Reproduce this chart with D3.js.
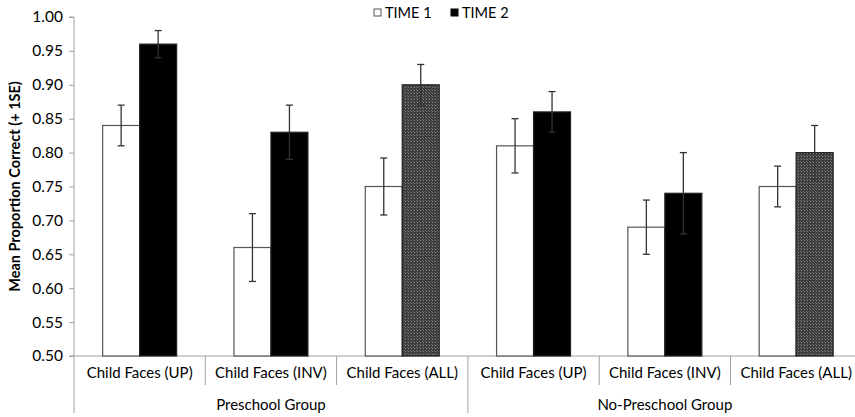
<!DOCTYPE html>
<html>
<head>
<meta charset="utf-8">
<script src="https://cdn.jsdelivr.net/npm/d3@7"></script>
<style>
  body { margin: 0; background: #fff; }
  svg text { font-family: Lato, "Liberation Sans", sans-serif; fill: #000; }
</style>
</head>
<body>
<script>
// data
const groups = ["Preschool Group", "No-Preschool Group"];
const categories = ["Child Faces (UP)", "Child Faces (INV)", "Child Faces (ALL)",
                    "Child Faces (UP)", "Child Faces (INV)", "Child Faces (ALL)"];
const series = ["TIME 1", "TIME 2"];
const time1 = [0.84, 0.66, 0.75, 0.81, 0.69, 0.75];
const time1Err = [0.03, 0.05, 0.042, 0.04, 0.04, 0.03];
const time2 = [0.96, 0.83, 0.90, 0.86, 0.74, 0.80];
const time2Err = [0.02, 0.04, 0.03, 0.03, 0.06, 0.04];
const yTicks = [0.50, 0.55, 0.60, 0.65, 0.70, 0.75, 0.80, 0.85, 0.90, 0.95, 1.00];

const w = 855, h = 417;
const padLeft = 74, padTop = 17, baseY = 356;
const catW = 131.3;

const svg = d3.select("body").append("svg")
  .attr("width", w).attr("height", h);

const defs = svg.append("defs");
const pat = defs.append("pattern")
  .attr("id", "dots").attr("width", 3).attr("height", 3)
  .attr("patternUnits", "userSpaceOnUse");
pat.append("rect").attr("width", 3).attr("height", 3).attr("fill", "#3c3c3c");
pat.append("rect").attr("width", 1).attr("height", 1).attr("fill", "#8a8a8a");
pat.append("rect").attr("x", 2).attr("y", 2).attr("width", 1).attr("height", 1).attr("fill", "#6a6a6a");

const x = d3.scaleBand()
  .domain(d3.range(categories.length))
  .range([padLeft, padLeft + catW * categories.length]);
const xInner = d3.scaleBand()
  .domain(series)
  .range([0, x.bandwidth()])
  .paddingOuter(0.775);
const y = d3.scaleLinear().domain([0.5, 1.0]).range([baseY, padTop]);

// y axis
const yAxis = d3.axisLeft(y).tickValues(yTicks).tickFormat(d3.format(".2f")).tickSize(5).tickPadding(6);
const gy = svg.append("g").attr("transform", `translate(${padLeft},0)`).call(yAxis);
gy.select(".domain").attr("stroke", "#a0a0a0").attr("d", `M-5,${padTop}H0V${baseY}`);
gy.selectAll(".tick line").attr("stroke", "#a0a0a0");
gy.selectAll(".tick text").style("font-size", "15.5px").attr("fill", "#000");

// extend y axis line down through the category area
svg.append("line").attr("x1", padLeft).attr("x2", padLeft).attr("y1", baseY).attr("y2", 413)
  .attr("stroke", "#a0a0a0");

// x axis line
svg.append("line").attr("x1", padLeft - 5).attr("x2", w).attr("y1", baseY).attr("y2", baseY)
  .attr("stroke", "#a0a0a0");

// category separators
d3.range(1, categories.length).forEach(i => {
  const xx = x(i);
  svg.append("line").attr("x1", xx).attr("x2", xx).attr("y1", baseY)
    .attr("y2", i % 3 === 0 ? 413 : 385).attr("stroke", "#a0a0a0");
});

// category labels
svg.selectAll(".cat").data(categories).enter().append("text")
  .attr("class", "cat")
  .attr("x", (d, i) => x(i) + x.bandwidth() / 2)
  .attr("y", 378)
  .attr("text-anchor", "middle")
  .style("font-size", "15px")
  .text(d => d);

// group labels
svg.selectAll(".grp").data(groups).enter().append("text")
  .attr("class", "grp")
  .attr("x", (d, i) => (x(i * 3) + x(i * 3 + 2) + x.bandwidth()) / 2)
  .attr("y", 410)
  .attr("text-anchor", "middle")
  .style("font-size", "15px")
  .text(d => d);

// bars
function fillFor(s, i) {
  if (s === "TIME 1") return "#fff";
  return categories[i].includes("ALL") ? "url(#dots)" : "#000";
}

const bars = [];
categories.forEach((c, i) => {
  bars.push({ i, s: "TIME 1", v: time1[i], e: time1Err[i] });
  bars.push({ i, s: "TIME 2", v: time2[i], e: time2Err[i] });
});

svg.selectAll(".bar").data(bars).enter().append("rect")
  .attr("class", "bar")
  .attr("x", d => x(d.i) + xInner(d.s))
  .attr("y", d => y(d.v))
  .attr("width", xInner.bandwidth())
  .attr("height", d => y(0.5) - y(d.v))
  .attr("fill", d => fillFor(d.s, d.i))
  .attr("stroke", d => d.s === "TIME 1" ? "#555" : "#222")
  .attr("stroke-width", 1.2);

// error bars
const cx = d => x(d.i) + xInner(d.s) + xInner.bandwidth() / 2;
const eg = svg.selectAll(".err").data(bars).enter().append("g").attr("class", "err");
eg.append("line")
  .attr("x1", cx).attr("x2", cx)
  .attr("y1", d => y(d.v + d.e))
  .attr("y2", d => y(d.v - d.e))
  .attr("stroke", "#333").attr("stroke-width", 1.3);
[1, -1].forEach(sign => {
  eg.append("line")
    .attr("x1", d => cx(d) - 3.5)
    .attr("x2", d => cx(d) + 3.5)
    .attr("y1", d => y(d.v + sign * d.e))
    .attr("y2", d => y(d.v + sign * d.e))
    .attr("stroke", "#333").attr("stroke-width", 1.3);
});

// y axis title
svg.append("text")
  .attr("transform", `translate(20,${(padTop + baseY) / 2}) rotate(-90)`)
  .attr("text-anchor", "middle")
  .style("font-size", "14.5px")
  .style("font-weight", "bold")
  .text("Mean Proportion Correct (+ 1SE)");

// legend
const legend = svg.append("g").attr("transform", "translate(374,9)");
series.forEach((s, k) => {
  const g = legend.append("g").attr("transform", `translate(${k * 77},0)`);
  g.append("rect").attr("width", 7).attr("height", 7)
    .attr("fill", k === 0 ? "#fff" : "#000").attr("stroke", k === 0 ? "#555" : "#000");
  g.append("text").attr("x", 11).attr("y", 9).style("font-size", "14.5px").text(s);
});
</script>
</body>
</html>
